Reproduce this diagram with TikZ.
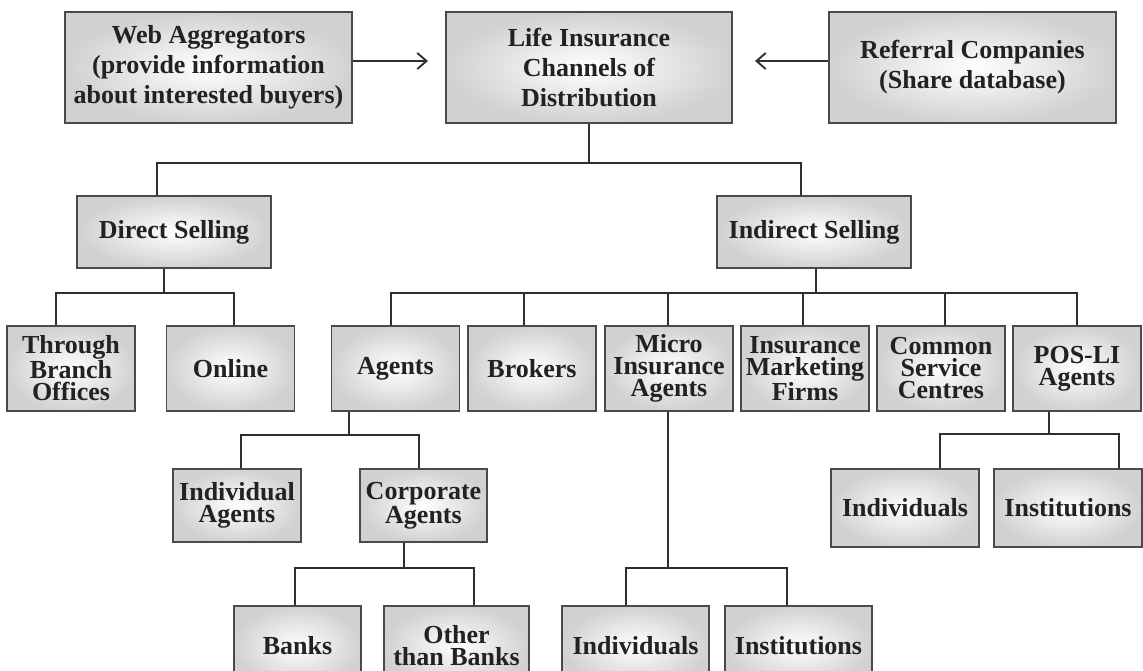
\documentclass[tikz,border=0pt]{standalone}
\usepackage{fontspec}
\setmainfont{Liberation Serif}
\usetikzlibrary{arrows.meta}
\definecolor{boxline}{HTML}{4A4A4A}
\definecolor{linec}{HTML}{2E2E2E}
\definecolor{txt}{HTML}{222222}
\tikzset{
  wh/.style 2 args={minimum width=#1*0.75pt, minimum height=#2*0.75pt},
  box/.style={draw=boxline, line width=1.0pt, inner color=white, outer color=gray!36,
              align=center, inner sep=0pt, text=txt},
  topbox/.style={box, font=\fontsize{19.5}{22.5}\selectfont\bfseries},
  subbox/.style={box, font=\fontsize{19.5}{16.5}\selectfont\bfseries},
  link/.style={draw=linec, line width=1.8pt},
  feed/.style={draw=linec, line width=1.5pt, -{Straight Barb[length=7pt,width=12pt,line width=1.4pt]}}
}
\begin{document}
\begin{tikzpicture}[x=0.75pt,y=-0.75pt]
\useasboundingbox (0,0) rectangle (1143,671);
\clip (0,0) rectangle (1143,671);

% top row
\node[topbox, wh={287}{111}] (web) at (208.5,67.5) {Web Aggregators\\(provide information\\about interested buyers)};
\node[topbox, wh={286}{111}] (life) at (589,67.5) {Life Insurance\\Channels of\\Distribution};
\node[topbox, wh={287}{111}] (ref) at (972.5,67.5) {Referral Companies\\(Share database)};

% level 2
\node[topbox, wh={194}{72}] (ds) at (174,232) {Direct Selling};
\node[topbox, wh={194}{72}] (is) at (814,232) {Indirect Selling};

% level 3
\node[subbox, wh={128}{85}] (tbo) at (71,368.5) {Through\\Branch\\Offices};
\node[subbox, wh={128}{85}] (onl) at (230.5,368.5) {Online};
\node[subbox, wh={128}{85}] (ag) at (395.5,368.5) {Agents};
\node[subbox, wh={128}{85}] (br) at (532,368.5) {Brokers};
\node[subbox, wh={128}{85}] (mi) at (669,368.5) {Micro\\Insurance\\Agents};
\node[subbox, wh={128}{85}] (imf) at (805,368.5) {Insurance\\Marketing\\Firms};
\node[subbox, wh={128}{85}] (csc) at (941,368.5) {Common\\Service\\Centres};
\node[subbox, wh={128}{85}] (pos) at (1077,368.5) {POS-LI\\Agents};

% level 4
\node[subbox, wh={128}{73}] (ia) at (237,505.5) {Individual\\Agents};
\node[subbox, wh={127}{73}] (ca) at (423.5,505.5) {Corporate\\Agents};
\node[subbox, wh={148}{78}] (pind) at (905,508) {Individuals};
\node[subbox, wh={148}{78}] (pinst) at (1068,508) {Institutions};

% level 5
\node[subbox, wh={127}{80}] (banks) at (297.5,646) {Banks};
\node[subbox, wh={145}{80}] (otb) at (456.5,646) {Other\\than Banks};
\node[subbox, wh={147}{80}] (mind) at (635.5,646) {Individuals};
\node[subbox, wh={147}{80}] (minst) at (798.5,646) {Institutions};

% feeding arrows
\coordinate (a1) at (428,61);
\coordinate (a2) at (755,61);
\draw[feed] (web.east |- a1) -- (a1);
\draw[feed] (ref.west |- a2) -- (a2);

% life -> direct / indirect
\coordinate (b1l) at (157,163);
\coordinate (b1r) at (801,163);
\draw[link] (life.south) -- (life.south |- b1l);
\draw[link] (ds.north -| b1l) -- (b1l) -- (b1r) -- (is.north -| b1r);

% direct selling
\coordinate (b2m) at (164,293);
\coordinate (b2l) at (56,293);
\coordinate (b2r) at (234,293);
\draw[link] (ds.south -| b2m) -- (b2m);
\draw[link] (tbo.north -| b2l) -- (b2l) -- (b2r) -- (onl.north -| b2r);

% indirect selling
\coordinate (b3m) at (816,293);
\coordinate (b3l) at (391,293);
\coordinate (b3r) at (1077,293);
\draw[link] (is.south -| b3m) -- (b3m);
\draw[link] (ag.north -| b3l) -- (b3l) -- (b3r) -- (pos.north -| b3r);
\draw[link] ([xshift=-6pt]br.north) -- ([xshift=-6pt]br.north |- b3l);
\draw[link] ([xshift=-0.75pt]mi.north) -- ([xshift=-0.75pt]mi.north |- b3l);
\draw[link] ([xshift=-1.5pt]imf.north) -- ([xshift=-1.5pt]imf.north |- b3l);
\draw[link] ([xshift=3pt]csc.north) -- ([xshift=3pt]csc.north |- b3l);

% agents
\coordinate (b4m) at (349,435);
\coordinate (b4l) at (241,435);
\coordinate (b4r) at (419,435);
\draw[link] (ag.south -| b4m) -- (b4m);
\draw[link] (ia.north -| b4l) -- (b4l) -- (b4r) -- (ca.north -| b4r);

% corporate agents
\coordinate (b5m) at (404,568);
\coordinate (b5l) at (295,568);
\coordinate (b5r) at (474,568);
\draw[link] (ca.south -| b5m) -- (b5m);
\draw[link] (banks.north -| b5l) -- (b5l) -- (b5r) -- (otb.north -| b5r);

% micro insurance agents
\coordinate (b6m) at (668,568);
\coordinate (b6l) at (626,568);
\coordinate (b6r) at (787,568);
\draw[link] (mi.south -| b6m) -- (b6m);
\draw[link] (mind.north -| b6l) -- (b6l) -- (b6r) -- (minst.north -| b6r);

% POS-LI agents
\coordinate (b7m) at (1049,434);
\coordinate (b7l) at (940,434);
\coordinate (b7r) at (1119,434);
\draw[link] (pos.south -| b7m) -- (b7m);
\draw[link] (pind.north -| b7l) -- (b7l) -- (b7r) -- (pinst.north -| b7r);
\end{tikzpicture}
\end{document}
